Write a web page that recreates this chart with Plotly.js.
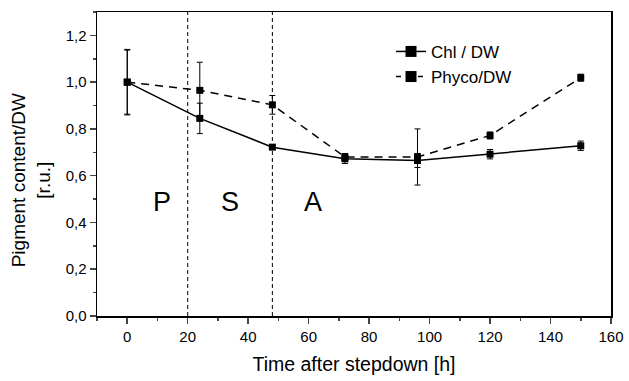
<!DOCTYPE html>
<html><head><meta charset="utf-8">
<script src="https://cdn.plot.ly/plotly-3.0.1.min.js"></script>
<style>html,body{margin:0;padding:0;background:#fff}</style>
</head><body>
<div id="chart" style="width:629px;height:381px"></div>
<script>
const hours = [0, 24, 48, 72, 96, 120, 150];
const chl = [1.0, 0.845, 0.722, 0.672, 0.665, 0.692, 0.728];
const chlErr = [0.137, 0.065, 0.01, 0.02, 0.03, 0.02, 0.02];
const phyco = [1.0, 0.965, 0.903, 0.68, 0.68, 0.772, 1.019];
const phycoErr = [0.14, 0.12, 0.04, 0.015, 0.12, 0.015, 0.015];
const seriesNames = ['Chl / DW', 'Phyco/DW'];
const phaseLines = [20, 48];
const phaseLabels = ['P', 'S', 'A'];
const phaseX = [11.4, 33.9, 61.5];
const phaseY = 0.488;

const FONT = 'Liberation Sans, Arial, sans-serif';
const dashStyle = '8px,6px';

const traces = [
  {x: hours, y: chl, name: seriesNames[0], mode: 'lines+markers', showlegend: false,
   line: {color: '#000', width: 1.5},
   marker: {symbol: 'square', size: 7, color: '#000'},
   error_y: {type: 'data', array: chlErr, visible: true, color: '#000', thickness: 1, width: 3}},
  {x: hours, y: phyco, name: seriesNames[1], mode: 'lines+markers', showlegend: false,
   line: {color: '#000', width: 1.5, dash: dashStyle},
   marker: {symbol: 'square', size: 7, color: '#000'},
   error_y: {type: 'data', array: phycoErr, visible: true, color: '#000', thickness: 1, width: 3}},
  // legend entries (larger legend symbols, as in the reference)
  {x: [null], y: [null], name: seriesNames[0], mode: 'lines+markers',
   line: {color: '#000', width: 1.5}, marker: {symbol: 'square', size: 11, color: '#000'}},
  {x: [null], y: [null], name: seriesNames[1], mode: 'lines+markers',
   line: {color: '#000', width: 1.5, dash: '5px,6px'}, marker: {symbol: 'square', size: 11, color: '#000'}}
];

const shapes = phaseLines.map(v => ({type: 'line', xref: 'x', yref: 'paper', x0: v, x1: v, y0: 0, y1: 1,
  line: {color: '#000', width: 1, dash: '4px,3px'}}));
const annotations = phaseLabels.map((t, i) => ({x: phaseX[i], y: phaseY, xref: 'x', yref: 'y', text: t,
  showarrow: false, font: {size: 27, color: '#000', family: FONT}}));
annotations.push({xref: 'paper', yref: 'paper', x: -0.128, y: 0.447, xanchor: 'center', yanchor: 'middle',
  text: 'Pigment content/DW<br>[r.u.]', textangle: -90, showarrow: false,
  font: {size: 19, color: '#000', family: FONT}});

const layout = {
  width: 629, height: 381,
  margin: {l: 97, r: 18, t: 12, b: 65},
  paper_bgcolor: '#fff', plot_bgcolor: '#fff',
  separators: ',.',
  font: {family: FONT, size: 15, color: '#000'},
  showlegend: true,
  legend: {x: 0.572, y: 0.928, xanchor: 'left', yanchor: 'top', bgcolor: 'rgba(0,0,0,0)',
    font: {size: 17}, tracegroupgap: 0},
  xaxis: {range: [-10, 160], tick0: 0, dtick: 20, ticks: 'outside', ticklen: 6, tickwidth: 1.5,
    showline: true, linecolor: '#000', linewidth: 1.5, mirror: true, showgrid: false, zeroline: false,
    minor: {ticks: 'outside', dtick: 10, tick0: 0, ticklen: 3, tickwidth: 1.5, showgrid: false},
    tickfont: {size: 15},
    title: {text: 'Time after stepdown [h]', font: {size: 19.5}, standoff: 14}},
  yaxis: {range: [0, 1.3], dtick: 0.2, tick0: 0, ticks: 'outside', ticklen: 6, tickwidth: 1.5,
    tickformat: '.1f',
    showline: true, linecolor: '#000', linewidth: 1.5, mirror: true, showgrid: false, zeroline: false,
    minor: {ticks: 'outside', dtick: 0.1, tick0: 0, ticklen: 3, tickwidth: 1.5, showgrid: false},
    tickfont: {size: 15}},
  shapes: shapes,
  annotations: annotations
};

Plotly.newPlot('chart', traces, layout, {staticPlot: true, displayModeBar: false});
</script>
</body></html>
